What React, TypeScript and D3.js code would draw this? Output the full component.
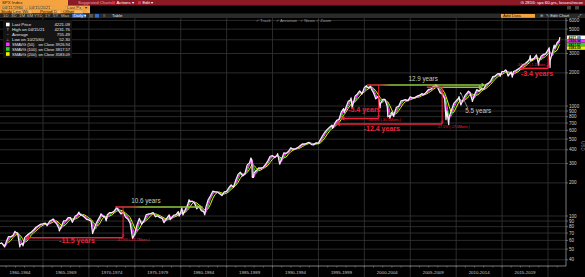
import React from 'react';
import * as d3 from 'd3';

const W = 585;
const H = 277;
const FONT = "'Liberation Sans', Arial, sans-serif";

// S&P 500 (SPX) closes: [decimal year, price]
const spx1960s: [number, number][] = [
  [1960.28, 56.0], [1960.49, 56.9], [1960.74, 53.5], [1960.82, 52.3], [1960.99, 58.1],
  [1961.24, 65.1], [1961.49, 64.6], [1961.74, 66.7], [1961.95, 72.6], [1961.99, 71.6],
  [1962.24, 69.6], [1962.48, 52.3], [1962.52, 54.8], [1962.74, 56.3], [1962.82, 53.5], [1962.99, 63.1],
  [1963.24, 66.6], [1963.49, 69.4], [1963.74, 71.7], [1963.99, 75.0],
  [1964.24, 79.0], [1964.49, 81.7], [1964.74, 84.2], [1964.99, 84.8],
  [1965.24, 86.2], [1965.45, 81.6], [1965.52, 84.1], [1965.74, 90.0], [1965.99, 92.4],
  [1966.1, 94.1], [1966.24, 89.2], [1966.49, 84.7], [1966.74, 77.0], [1966.78, 73.2], [1966.99, 80.3],
  [1967.24, 90.2], [1967.49, 90.6], [1967.74, 96.7], [1967.99, 96.5],
  [1968.2, 87.7], [1968.49, 99.6], [1968.74, 102.7], [1968.91, 108.4], [1968.99, 103.9],
  [1969.24, 101.5], [1969.49, 97.7], [1969.74, 93.1], [1969.99, 92.1],
];
const spx1970s: [number, number][] = [
  [1970.24, 89.6], [1970.4, 69.3], [1970.49, 72.7], [1970.74, 84.2], [1970.99, 92.2],
  [1971.24, 100.3], [1971.32, 104.8], [1971.49, 99.7], [1971.74, 98.3], [1971.88, 90.2], [1971.99, 102.1],
  [1972.24, 107.2], [1972.49, 107.1], [1972.74, 110.6], [1972.99, 118.1],
  [1973.03, 120.2], [1973.24, 111.5], [1973.49, 104.3], [1973.74, 108.4], [1973.99, 97.6],
  [1974.24, 94.0], [1974.49, 86.0], [1974.74, 63.5], [1974.76, 62.3], [1974.99, 68.6],
  [1975.24, 83.4], [1975.49, 95.2], [1975.74, 83.9], [1975.99, 90.2],
  [1976.24, 102.8], [1976.49, 104.3], [1976.74, 105.2], [1976.99, 107.5],
  [1977.24, 98.4], [1977.49, 100.5], [1977.74, 96.5], [1977.99, 95.1],
  [1978.18, 86.9], [1978.49, 95.5], [1978.74, 102.5], [1978.85, 92.5], [1978.99, 96.1],
  [1979.24, 101.6], [1979.49, 102.9], [1979.74, 109.3], [1979.83, 99.9], [1979.99, 107.9],
];
const spx1980s: [number, number][] = [
  [1980.12, 118.4], [1980.24, 102.1], [1980.49, 114.2], [1980.74, 125.5], [1980.91, 140.5], [1980.99, 135.8],
  [1981.24, 136.0], [1981.49, 131.2], [1981.74, 116.2], [1981.99, 122.6],
  [1982.24, 112.0], [1982.49, 109.6], [1982.62, 102.4], [1982.74, 120.4], [1982.99, 140.6],
  [1983.24, 153.0], [1983.49, 168.1], [1983.74, 166.1], [1983.99, 164.9],
  [1984.24, 159.2], [1984.49, 153.2], [1984.74, 166.1], [1984.99, 167.2],
  [1985.24, 180.7], [1985.49, 191.9], [1985.74, 182.1], [1985.99, 211.3],
  [1986.24, 238.9], [1986.49, 250.8], [1986.74, 231.3], [1986.99, 242.2],
  [1987.24, 291.7], [1987.49, 304.0], [1987.65, 336.8], [1987.74, 321.8], [1987.8, 224.8], [1987.92, 223.9], [1987.99, 247.1],
  [1988.24, 258.9], [1988.49, 273.5], [1988.74, 271.9], [1988.99, 277.7],
  [1989.24, 294.9], [1989.49, 318.0], [1989.74, 349.2], [1989.99, 353.4],
];
const spx1990s: [number, number][] = [
  [1990.24, 339.9], [1990.49, 358.0], [1990.55, 369.0], [1990.78, 295.5], [1990.99, 330.2],
  [1991.24, 375.2], [1991.49, 371.2], [1991.74, 387.9], [1991.99, 417.1],
  [1992.24, 403.7], [1992.49, 408.1], [1992.74, 418.5], [1992.99, 435.7],
  [1993.24, 451.7], [1993.49, 450.5], [1993.74, 458.9], [1993.99, 466.5],
  [1994.24, 445.8], [1994.49, 444.3], [1994.74, 462.7], [1994.99, 459.3],
  [1995.24, 500.7], [1995.49, 544.8], [1995.74, 584.4], [1995.99, 615.9],
  [1996.24, 645.5], [1996.49, 670.6], [1996.55, 626.7], [1996.74, 687.3], [1996.99, 740.7],
  [1997.24, 757.1], [1997.49, 885.1], [1997.74, 947.3], [1997.82, 877.0], [1997.99, 970.4],
  [1998.24, 1101.8], [1998.49, 1133.8], [1998.55, 1186.8], [1998.67, 957.3], [1998.74, 1017.0], [1998.99, 1229.2],
  [1999.24, 1286.4], [1999.49, 1372.7], [1999.74, 1282.7], [1999.99, 1469.3],
];
const spx2000s: [number, number][] = [
  [2000.22, 1527.5], [2000.24, 1498.6], [2000.49, 1454.6], [2000.67, 1520.8], [2000.74, 1436.5], [2000.99, 1320.3],
  [2001.24, 1160.3], [2001.49, 1224.4], [2001.72, 965.8], [2001.74, 1040.9], [2001.99, 1148.1],
  [2002.24, 1147.4], [2002.49, 989.8], [2002.56, 797.7], [2002.74, 815.3], [2002.78, 776.8], [2002.99, 879.8],
  [2003.2, 800.7], [2003.24, 848.2], [2003.49, 974.5], [2003.74, 996.0], [2003.99, 1111.9],
  [2004.24, 1126.2], [2004.49, 1140.8], [2004.74, 1114.6], [2004.99, 1211.9],
  [2005.24, 1180.6], [2005.49, 1191.3], [2005.74, 1228.8], [2005.99, 1248.3],
  [2006.24, 1294.8], [2006.49, 1270.2], [2006.74, 1335.9], [2006.99, 1418.3],
  [2007.24, 1420.9], [2007.49, 1503.4], [2007.74, 1526.8], [2007.77, 1565.2], [2007.99, 1468.4],
  [2008.24, 1322.7], [2008.49, 1280.0], [2008.74, 1166.4], [2008.89, 752.4], [2008.99, 903.3],
  [2009.19, 676.5], [2009.24, 797.9], [2009.49, 919.3], [2009.74, 1057.1], [2009.99, 1115.1],
];
const spx2010s: [number, number][] = [
  [2010.24, 1169.4], [2010.31, 1217.3], [2010.49, 1030.7], [2010.51, 1022.6], [2010.74, 1141.2], [2010.99, 1257.6],
  [2011.24, 1325.8], [2011.33, 1363.6], [2011.49, 1320.6], [2011.74, 1131.4], [2011.76, 1099.2], [2011.99, 1257.6],
  [2012.24, 1408.5], [2012.49, 1362.2], [2012.74, 1440.7], [2012.99, 1426.2],
  [2013.24, 1569.2], [2013.49, 1606.3], [2013.74, 1681.6], [2013.99, 1848.4],
  [2014.24, 1872.3], [2014.49, 1960.2], [2014.74, 1972.3], [2014.79, 1862.5], [2014.99, 2058.9],
  [2015.24, 2067.9], [2015.39, 2130.8], [2015.49, 2063.1], [2015.65, 1867.6], [2015.74, 1920.0], [2015.99, 2043.9],
  [2016.11, 1829.1], [2016.24, 2059.7], [2016.49, 2098.9], [2016.74, 2168.3], [2016.99, 2238.8],
  [2017.24, 2362.7], [2017.49, 2423.4], [2017.74, 2519.4], [2017.99, 2673.6],
  [2018.07, 2872.9], [2018.11, 2581.0], [2018.24, 2640.9], [2018.49, 2718.4], [2018.74, 2914.0], [2018.98, 2351.1], [2018.99, 2506.9],
  [2019.24, 2834.4], [2019.49, 2941.8], [2019.74, 2976.7], [2019.99, 3230.8],
];
const spx2020s: [number, number][] = [
  [2020.13, 3386.2], [2020.22, 2237.4], [2020.24, 2584.6], [2020.49, 3100.3], [2020.67, 3580.8], [2020.74, 3363.0], [2020.99, 3756.1],
  [2021.24, 3972.9], [2021.29, 4221.1],
];

// Moving-average windows in years (50 / 100 / 200 trading days)
const smaWindows = [50 / 252, 100 / 252, 200 / 252];
const smaColors = ['#ff2cff', '#2fd02f', '#f2f200'];

const yTickValues = [40, 50, 60, 70, 80, 90, 100, 200, 300, 400, 500, 600, 700, 800, 900, 1000, 2000, 3000, 4000, 5000, 6000];
const hiddenTickLabels = [4000];
const periodStarts = [1960, 1965, 1970, 1975, 1980, 1985, 1990, 1995, 2000, 2005, 2010, 2015];
const periodLabels = ['1960-1964', '1965-1969', '1970-1974', '1975-1979', '1980-1984', '1985-1989', '1990-1994', '1995-1999', '2000-2004', '2005-2009', '2010-2014', '2015-2019'];
const gridYears = [1965, 1970, 1975, 1980, 1985, 1990, 1995, 2000, 2005, 2010, 2015, 2020];

const legendLabels = ['Last Price', 'High on 04/15/21', 'Average', 'Low on 10/25/60', 'SMAVG (50)', 'SMAVG (100)', 'SMAVG (200)'];
const legendSuffix = ['', '', '', '', 'on Close', 'on Close', 'on Close'];
const legendValues = ['4221.09', '4231.76', '755.49', '52.30', '3926.94', '3817.57', '3583.09'];
const legendIcons = ['#ffffff', 'high', 'avg', 'low', '#ff2cff', '#2fd02f', '#f2f200'];

// recovery arrows (red -> green): start year, end year, level
const recoveryFrom = [1972.85, 2000.29, 2006.8];
const recoveryTo = [1982.45, 2013.2, 2012.9];
const recoveryLevel = [121, 1552, 1480];
const recoveryLabels = ['10.6 years', '12.9 years', ''];
const recoveryLabelAt: [number, number][] = [[1976.2, 130], [2006.4, 1700], [0, 0]];

// drawdowns: vertical line year, top level, trough level, year reached back to
const ddAt = [1973.72, 2001.56, 2008.47, 2020.03];
const ddTop = [121, 1552, 1552, 2908];
const ddTrough = [63.5, 770, 686, 2200];
const ddBack = [1963.04, 1997.4, 1996.9, 2016.9];
const ddLabels = ['-11.5 years', '-5.4 years', '-12.4 years', '-3.4 years'];
const ddLabelAt: [number, number][] = [[1968.7, 57.2], [2000.0, 876], [2001.9, 596], [2018.8, 1886]];
const ddPctLabels = ['-47.9% (-21.1Mons.)', '-50.5% (-30.5Mons.)', '-57.5% (-17.0Mons.)', '-34.0% (-1.1Mons.)'];
const ddPctAt: [number, number][] = [[1973.03, 59.3], [2000.4, 731], [2007.9, 627], [2019.95, 2290]];
const ddPctAnchor = ['start', 'start', 'start', 'end'];

const RED = '#f0203c';
const GREEN = '#92c83e';

export default function App() {
  const price = [...spx1960s, ...spx1970s, ...spx1980s, ...spx1990s, ...spx2000s, ...spx2010s, ...spx2020s].sort((a, b) => a[0] - b[0]);
  const x = d3.scaleLinear().domain([1965, 2020]).range([43, 548]);
  const y = d3.scaleLog().domain([100, 1000]).range([216, 106]);
  const P = { left: 0, right: 566, top: 18, bottom: 266 };

  // trailing average of the drawn price line over a time window
  const integral = (a: number, b: number) => {
    let s = 0;
    for (let i = 0; i < price.length - 1; i++) {
      const [t0, v0] = price[i];
      const [t1, v1] = price[i + 1];
      const lo = Math.max(a, t0), hi = Math.min(b, t1);
      if (hi <= lo) continue;
      const va = v0 + ((v1 - v0) * (lo - t0)) / (t1 - t0);
      const vb = v0 + ((v1 - v0) * (hi - t0)) / (t1 - t0);
      s += ((va + vb) / 2) * (hi - lo);
    }
    return s;
  };
  const smaSeries = smaWindows.map((w) =>
    price.filter((d) => d[0] - w >= price[0][0]).map((d) => [d[0], integral(d[0] - w, d[0]) / w] as [number, number])
  );

  const line = d3.line<[number, number]>().x((d) => x(d[0])).y((d) => y(d[1]));

  const hdr = { fontFamily: FONT, fontSize: 4.3 };

  // value tags on the right axis, stacked so they do not collide
  const tagOrder = [0, 4, 5, 6];
  const tagColors = ['#ffffff', '#ff2cff', '#2fd02f', '#f2f200'];
  let lastTagY = -Infinity;
  const tagYs = tagOrder.map((idx) => {
    let yy = y(parseFloat(legendValues[idx]));
    if (yy < lastTagY + 3.6) yy = lastTagY + 3.6;
    lastTagY = yy;
    return yy;
  });

  return (
    <div style={{ position: 'fixed', left: 0, top: 0, width: W, height: H, background: '#000' }}>
      <svg width={W} height={H} viewBox={`0 0 ${W} ${H}`} style={{ display: 'block' }}>
        <defs>
          <clipPath id="plotClip">
            <rect x={P.left} y={P.top} width={P.right - P.left} height={P.bottom - P.top} />
          </clipPath>
          {recoveryFrom.map((f, i) => (
            <linearGradient key={i} id={`rg${i}`} gradientUnits="userSpaceOnUse" x1={x(f)} x2={x(recoveryTo[i])} y1={0} y2={0}>
              <stop offset="0" stopColor={RED} />
              <stop offset={i === 1 ? '0.12' : '0.2'} stopColor="#c05030" />
              <stop offset={i === 1 ? '0.2' : '0.32'} stopColor={GREEN} />
              <stop offset="1" stopColor={GREEN} />
            </linearGradient>
          ))}
        </defs>
        <rect x={0} y={0} width={W} height={H} fill="#000" />

        {/* grid */}
        {yTickValues.map((v) => (
          <line key={v} x1={P.left} x2={P.right} y1={y(v)} y2={y(v)} stroke="#363636" strokeWidth={0.8} />
        ))}
        {gridYears.map((g) => (
          <line key={g} x1={x(g)} x2={x(g)} y1={P.top} y2={H} stroke="#363636" strokeWidth={0.8} />
        ))}

        {/* series */}
        <g clipPath="url(#plotClip)" fill="none" strokeLinejoin="round">
          <path d={line(smaSeries[2]) || ''} stroke={smaColors[2]} strokeWidth={1} />
          <path d={line(smaSeries[1]) || ''} stroke={smaColors[1]} strokeWidth={1} />
          <path d={line(smaSeries[0]) || ''} stroke={smaColors[0]} strokeWidth={1.1} />
          <path d={line(price) || ''} stroke="#f4eef4" strokeWidth={1.25} />
        </g>

        {/* annotations: recoveries */}
        {recoveryFrom.map((f, i) => {
          const x1 = x(f), x2 = x(recoveryTo[i]), yy = y(recoveryLevel[i]);
          return (
            <g key={'r' + i}>
              <line x1={x1} x2={x2 - 3} y1={yy} y2={yy} stroke={`url(#rg${i})`} strokeWidth={1.5} />
              <path d={`M${x2},${yy} L${x2 - 4},${yy - 2.2} L${x2 - 4},${yy + 2.2} Z`} fill={GREEN} />
              {recoveryLabels[i] && (
                <text x={x(recoveryLabelAt[i][0])} y={y(recoveryLabelAt[i][1])} textAnchor="middle" fontFamily={FONT} fontSize={6.3} fill="#c8d0c0">
                  {recoveryLabels[i]}
                </text>
              )}
            </g>
          );
        })}
        {/* 5.5 years pointer */}
        <line x1={x(2011.25)} y1={y(960)} x2={x(2010.45)} y2={y(1340)} stroke="#aaaaaa" strokeWidth={0.7} />
        <path d={`M${x(2010.45)},${y(1340)} l-0.6,2.4 l2,-0.6 Z`} fill="#aaaaaa" />
        <text x={x(2012.4)} y={y(860)} textAnchor="middle" fontFamily={FONT} fontSize={6.3} fill="#c8c8c8">5.5 years</text>

        {/* annotations: drawdowns */}
        {ddAt.map((a, i) => {
          const xv = x(a), yt = y(ddTop[i]), yb = y(ddTrough[i]), xb = x(ddBack[i]);
          return (
            <g key={'d' + i}>
              <line x1={xv} x2={xv} y1={yt} y2={yb} stroke={RED} strokeWidth={1} />
              <line x1={xb + 3} x2={xv} y1={yb} y2={yb} stroke={RED} strokeWidth={1.5} />
              <path d={`M${xb},${yb} L${xb + 4},${yb - 2.2} L${xb + 4},${yb + 2.2} Z`} fill={RED} />
              <circle cx={xv} cy={yb - 2.2} r={1.1} fill="none" stroke={RED} strokeWidth={0.6} />
              <text x={x(ddLabelAt[i][0])} y={y(ddLabelAt[i][1])} textAnchor="middle" fontFamily={FONT} fontWeight="bold" fontSize={7} fill={RED}>
                {ddLabels[i]}
              </text>
              <text x={x(ddPctAt[i][0])} y={y(ddPctAt[i][1])} textAnchor={ddPctAnchor[i]} fontFamily={FONT} fontSize={3.6} fill={RED}>
                {ddPctLabels[i]}
              </text>
            </g>
          );
        })}

        {/* right axis */}
        <rect x={P.right} y={P.top} width={W - P.right} height={H - P.top} fill="#000" />
        <line x1={P.right} x2={P.right} y1={P.top} y2={P.bottom} stroke="#9a9a9a" strokeWidth={0.8} />
        {yTickValues.map((v) => (
          <g key={'t' + v}>
            <line x1={P.right} x2={P.right + 2} y1={y(v)} y2={y(v)} stroke="#9a9a9a" strokeWidth={0.6} />
            {!hiddenTickLabels.includes(v) && (
              <text x={P.right + 3} y={y(v) + 1.6} fontFamily={FONT} fontSize={4.6} fill="#d0d0d0">{v}</text>
            )}
          </g>
        ))}
        {tagOrder.map((idx, k) => {
          const yy = tagYs[k];
          return (
            <g key={'tag' + k}>
              <rect x={P.right + 1} y={yy - 1.7} width={W - P.right - 1} height={3.5} fill={tagColors[k]} />
              <text x={P.right + 2.5} y={yy + 1.3} fontFamily={FONT} fontSize={3.4} fontWeight="bold" fill="#000">{legendValues[idx]}</text>
            </g>
          );
        })}
        <text transform={`translate(581,146) rotate(90)`} fontFamily={FONT} fontSize={4.5} fill="#888" textAnchor="middle">USD</text>

        {/* x axis */}
        <line x1={P.left} x2={P.right} y1={P.bottom} y2={P.bottom} stroke="#9a9a9a" strokeWidth={0.8} />
        {d3.range(1961, 2022).map((yr) => (
          <line key={'m' + yr} x1={x(yr)} x2={x(yr)} y1={P.bottom} y2={P.bottom + 1.5} stroke="#9a9a9a" strokeWidth={0.5} />
        ))}
        {periodStarts.map((p, i) => (
          <text key={'p' + p} x={x(p + 2.5)} y={273.5} textAnchor="middle" fontFamily={FONT} fontSize={4.4} fill="#c8c8c8">{periodLabels[i]}</text>
        ))}

        {/* legend */}
        <rect x={3} y={20} width={69} height={38} fill="#141414" />
        {legendLabels.map((lab, i) => {
          const yy = [24.5, 29, 34, 39, 44.3, 49, 54][i];
          const ic = legendIcons[i];
          return (
            <g key={'l' + i}>
              {ic.startsWith('#') ? (
                <rect x={6} y={yy - 1.8} width={3.6} height={3.6} fill={ic} />
              ) : (
                <text x={7.8} y={yy + 1.5} textAnchor="middle" fontFamily={FONT} fontSize={4.3} fill="#bbb">
                  {ic === 'high' ? 'T' : ic === 'avg' ? '~' : '⊥'}
                </text>
              )}
              <text x={12} y={yy + 1.5} fontFamily={FONT} fontSize={i >= 4 ? 4 : 4.3} fill="#e8e8e8">{lab}</text>
              {legendSuffix[i] && (
                <text x={38.5} y={yy + 1.5} fontFamily={FONT} fontSize={4} fill="#e8e8e8">{legendSuffix[i]}</text>
              )}
              <text x={70} y={yy + 1.5} textAnchor="end" fontFamily={FONT} fontSize={i >= 4 ? 4 : 4.3} fill="#e8e8e8">{legendValues[i]}</text>
            </g>
          );
        })}

        {/* chart toggles */}
        <g style={hdr} fill="#9a9a9a">
          <text x={256} y={22}>✓ Track</text>
          <text x={276} y={22}>✓ Annotate</text>
          <text x={300} y={22}>✓ News</text>
          <text x={316} y={22}>✓ Zoom</text>
        </g>

        {/* header */}
        <rect x={0} y={0} width={W} height={5.5} fill="#8c1a24" />
        <rect x={0} y={0} width={68} height={13.5} fill="#f4a340" />
        <rect x={68} y={5.5} width={22} height={8} fill="#f4a340" />
        <rect x={0} y={13.5} width={W} height={4.5} fill="#2a2a2a" />
        <g style={hdr}>
          <text x={2} y={4.3} fill="#3a1c00">SPX Index</text>
          <text x={78} y={4.3} fill="#e9a0aa">Suggested Charts</text>
          <rect x={112} y={1.2} width={3} height={3} fill="#e03040" />
          <text x={116.5} y={4.3} fill="#fff">Actions ▾</text>
          <rect x={138} y={1.2} width={3} height={3} fill="#e03040" />
          <text x={142.5} y={4.3} fill="#fff">Edit ▾</text>
          <text x={583} y={4.3} fill="#fff" textAnchor="end">G 2816: spx 60-yrs, losses/recov</text>

          <rect x={1} y={6} width={24} height={3.4} fill="#f7b865" stroke="#c07a20" strokeWidth={0.3} />
          <text x={2} y={8.8} fill="#2a1600">04/11/1960</text>
          <text x={25.8} y={8.8} fill="#2a1600">-</text>
          <rect x={28} y={6} width={24} height={3.4} fill="#f7b865" stroke="#c07a20" strokeWidth={0.3} />
          <text x={29} y={8.8} fill="#2a1600">04/15/2021</text>
          <rect x={66} y={6} width={17} height={3.4} fill="#f7b865" stroke="#c07a20" strokeWidth={0.3} />
          <text x={67} y={8.8} fill="#2a1600">Last Px</text>
          <text x={85} y={8.8} fill="#2a1600">▾</text>

          <text x={1} y={12.7} fill="#2a1600">Study</text>
          <rect x={12} y={10} width={20} height={3.2} fill="#f7b865" stroke="#c07a20" strokeWidth={0.3} />
          <text x={13} y={12.7} fill="#2a1600">Line Wk</text>
          <text x={40} y={12.7} fill="#2a1600">Period</text>
          <rect x={53} y={10} width={8} height={3.2} fill="#f7b865" stroke="#c07a20" strokeWidth={0.3} />
          <text x={54} y={12.7} fill="#2a1600">D</text>
          <text x={63} y={12.7} fill="#2a1600">Offset</text>
          <rect x={74} y={10} width={9} height={3.2} fill="#f7b865" stroke="#c07a20" strokeWidth={0.3} />
          <text x={87} y={12.7} fill="#ddd">✎</text>

          <rect x={567} y={6} width={4} height={3.5} fill="#444" />
          <rect x={575} y={6} width={4} height={3.5} fill="#444" />

          {['1D', '3D', '1M', '6M', 'YTD', '1Y', '5Y', 'Max'].map((t, i) => (
            <text key={t} x={[3, 11, 19, 27, 34, 45, 53, 61][i]} y={17.2} fill="#bdbdbd">{t}</text>
          ))}
          <rect x={72} y={14} width={14} height={3.6} fill="#2f6fcf" />
          <text x={73.5} y={17.2} fill="#fff">Daily ▾</text>
          <rect x={89} y={14} width={4} height={3.6} fill="#555" />
          <rect x={95} y={14} width={4} height={3.6} fill="#2f6fcf" />
          <text x={103} y={17.2} fill="#bdbdbd">≡</text>
          <text x={112} y={17.2} fill="#e0e0e0">Table</text>
          <rect x={501} y={14} width={34} height={3.8} fill="#f4a340" />
          <text x={503} y={17.2} fill="#2a1600">Add Data</text>
          <text x={540} y={17.2} fill="#bdbdbd">⊞</text>
          <text x={546} y={17.2} fill="#e0e0e0">✎ Edit Chart</text>
          <text x={578} y={17.2} fill="#bdbdbd">⤢</text>
        </g>
      </svg>
    </div>
  );
}
